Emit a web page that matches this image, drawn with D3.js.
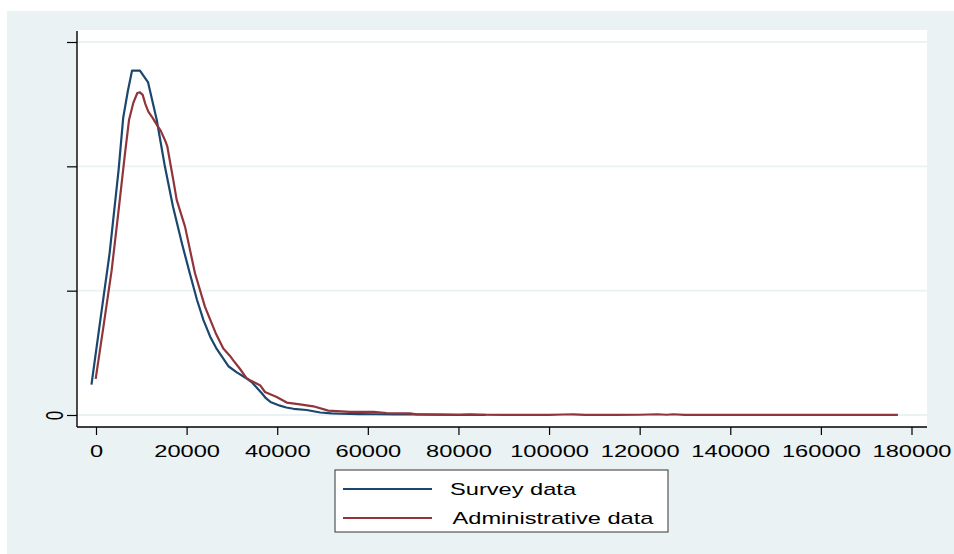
<!DOCTYPE html>
<html>
<head>
<meta charset="utf-8">
<script src="https://cdn.jsdelivr.net/npm/d3@7/dist/d3.min.js"></script>
<style>
html,body{margin:0;padding:0;background:#fff;}
svg{display:block;}
text{font-family:"Liberation Sans",Arial,sans-serif;fill:#000;}
</style>
</head>
<body>
<svg id="chart" width="954" height="554"></svg>
<script>
// ---- data (density in units of 1e-5) ----
const seriesNames = ["Survey data", "Administrative data"];
const xTicks = [0, 20000, 40000, 60000, 80000, 100000, 120000, 140000, 160000, 180000];
const yTicks = [0, 2, 4, 6];
const yTickLabels = ["0", "", "", ""];

const surveyData = [
  [-1000,0.49],[1000,1.55],[3000,2.6],[5000,3.95],[6000,4.78],[7000,5.2],[7950,5.54],
  [9700,5.54],[11500,5.35],[13400,4.75],[15200,4.0],[17000,3.35],[19000,2.75],
  [20700,2.28],[22300,1.85],[23700,1.53],[25200,1.26],[26500,1.08],[27800,0.94],
  [29300,0.78],[31000,0.69],[33000,0.60],[34500,0.52],[35600,0.43],[36600,0.35],
  [37500,0.27],[38500,0.21],[40600,0.15],[42000,0.12],[43600,0.10],[46500,0.08],
  [48000,0.06],[49500,0.04],[52000,0.025],[54000,0.02],[58000,0.015],[62000,0.012],
  [66000,0.008],[70000,0.01],[75000,0.005],[80000,0.003],[86000,0.002]
];

const adminData = [
  [-70,0.58],[1700,1.45],[3460,2.33],[5000,3.3],[6400,4.21],[7300,4.75],[8230,5.02],
  [9120,5.18],[9710,5.19],[10300,5.15],[10900,5.0],[11550,4.88],[12500,4.78],
  [13400,4.67],[14300,4.57],[15230,4.42],[15740,4.32],[17060,3.78],[17810,3.46],
  [19650,3.03],[21850,2.28],[24060,1.74],[26400,1.32],[28100,1.07],[29580,0.95],
  [30300,0.88],[31800,0.74],[33260,0.59],[34000,0.56],[36200,0.48],[37300,0.37],
  [39880,0.29],[42100,0.20],[45030,0.17],[47970,0.14],[51280,0.07],[56070,0.05],
  [61220,0.05],[64170,0.03],[69300,0.027],[70800,0.01],[72000,0.008],[76000,0.005],
  [80000,0.004],[82600,0.01],[85000,0.004],[90000,0.002],[95000,0.003],[100000,0.002],
  [103000,0.008],[105300,0.01],[108000,0.003],[115000,0.002],[120000,0.004],
  [123900,0.012],[126000,0.004],[127400,0.012],[130000,0.002],[140000,0.001],
  [150000,0.001],[160000,0.001],[170000,0.001],[177000,0.001]
];

// ---- layout ----
const svg = d3.select("#chart");
const colors = ["#1a476f", "#90353b"];
const SX = 1.39;      // horizontal text stretch seen in reference
const FS = 17;

const x = d3.scaleLinear().domain([0, 180000]).range([96, 911.5]);
const y = d3.scaleLinear().domain([0, 6]).range([415, 42]);

const plot = {left: 77, right: 927, top: 30, bottom: 427};

// outer background
svg.append("rect").attr("x", 7).attr("y", 11).attr("width", 954 - 7).attr("height", 554 - 11)
  .attr("fill", "#eaf2f3");
// plot region
svg.append("rect").attr("x", plot.left).attr("y", plot.top)
  .attr("width", plot.right - plot.left).attr("height", plot.bottom - plot.top)
  .attr("fill", "#fff");

// gridlines
svg.append("g").selectAll("line").data(yTicks).join("line")
  .attr("x1", plot.left).attr("x2", plot.right)
  .attr("y1", d => y(d)).attr("y2", d => y(d))
  .attr("stroke", "#eaf2f3").attr("stroke-width", 1.8);

// series
const line = d3.line().x(d => x(d[0])).y(d => y(d[1]));
[surveyData, adminData].forEach((data, i) => {
  svg.append("path").datum(data).attr("d", line)
    .attr("fill", "none").attr("stroke", colors[i]).attr("stroke-width", 2.2)
    .attr("stroke-linejoin", "round");
});

// y axis
const yAxis = d3.axisLeft(y).tickValues(yTicks).tickSize(10).tickFormat(() => "");
const gy = svg.append("g").attr("transform", `translate(${plot.left},0)`).call(yAxis);
gy.select(".domain").remove();
gy.selectAll(".tick line").attr("stroke", "#000").attr("stroke-width", 1.2);
svg.append("line").attr("x1", plot.left).attr("x2", plot.left)
  .attr("y1", 31).attr("y2", plot.bottom).attr("stroke", "#000").attr("stroke-width", 1.4);
gy.selectAll(".tick").each(function(d, i) {
  if (!yTickLabels[i]) return;
  d3.select(this).append("text")
    .attr("transform", `translate(-23,0) scale(${SX},1) rotate(-90)`)
    .attr("text-anchor", "middle").attr("dy", "0.36em")
    .style("font-size", FS + "px").style("fill", "#000")
    .text(yTickLabels[i]);
});

// x axis
const xAxis = d3.axisBottom(x).tickValues(xTicks).tickSize(8).tickFormat(() => "");
const gx = svg.append("g").attr("transform", `translate(0,${plot.bottom})`).call(xAxis);
gx.select(".domain").remove();
gx.selectAll(".tick line").attr("stroke", "#000").attr("stroke-width", 1.2);
svg.append("line").attr("x1", plot.left).attr("x2", plot.right)
  .attr("y1", plot.bottom).attr("y2", plot.bottom).attr("stroke", "#000").attr("stroke-width", 1.4);
gx.selectAll(".tick").append("text")
  .attr("transform", `translate(0,30) scale(${SX},1)`)
  .attr("text-anchor", "middle")
  .style("font-size", FS + "px").style("fill", "#000")
  .text(d => String(d));

// legend
const lg = svg.append("g");
lg.append("rect").attr("x", 335).attr("y", 470).attr("width", 333).attr("height", 62)
  .attr("fill", "#fff").attr("stroke", "#333").attr("stroke-width", 1);
const legendRows = [{y: 489, tx: 450, ty: 495}, {y: 518, tx: 452.5, ty: 524}];
seriesNames.forEach((name, i) => {
  const r = legendRows[i];
  lg.append("line").attr("x1", 343).attr("x2", 432).attr("y1", r.y).attr("y2", r.y)
    .attr("stroke", colors[i]).attr("stroke-width", 2.2);
  lg.append("text").attr("transform", `translate(${r.tx},${r.ty}) scale(${SX},1)`)
    .style("font-size", FS + "px").text(name);
});
</script>
</body>
</html>
